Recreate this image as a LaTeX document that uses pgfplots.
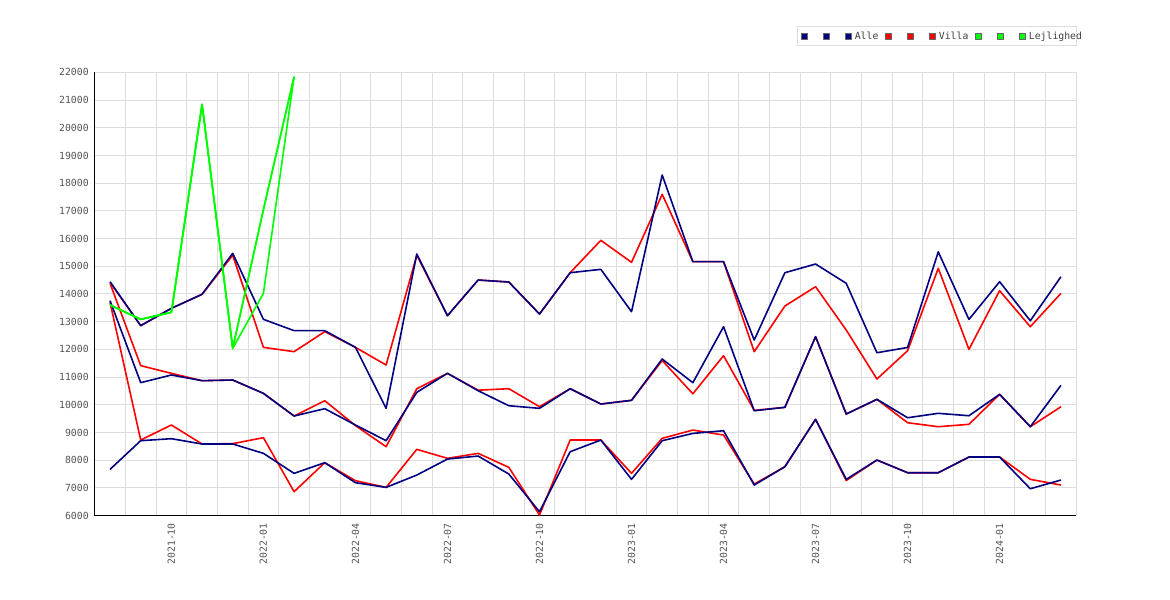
\documentclass[border=0pt]{standalone}
\usepackage{pgfplots}
\usepackage{pgfplotstable}
\pgfplotsset{compat=1.18}
\usepackage{fontspec}
\setmainfont{DejaVu Sans}
\newfontfamily\monof{DejaVu Sans Mono}
\definecolor{navyc}{HTML}{000080}
\definecolor{redc}{HTML}{FF0000}
\definecolor{greenc}{HTML}{00FF00}
\definecolor{gridc}{HTML}{DDDDDD}
\definecolor{labc}{HTML}{555555}

% Alle (AU, AM, AL) and Villa (VU, VM, VL), months 2021-08 .. 2024-03
\pgfplotstableread{
x  AU    AM    AL    VU    VM    VL
0  14445 13759 7672  14420 14385 13700
1  12857 10800 8707  12857 11414 8731
2  13483 11077 8779  13483 11137 9273
3  13988 10872 8587  13988 10872 8587
4  15468 10896 8587  15400 10896 8600
5  13086 10415 8250  12075 10415 8815
6  12677 9597  7528  11919 9597  6866
7  12677 9862  7913  12641 10150 7913
8  12075 9273  7191  12075 9250  7263
9  9874  8707  7022  11438 8490  7022
10 15443 10452 7467  15400 10582 8394
11 13217 11137 8044  13217 11137 8070
12 14504 10510 8153  14504 10530 8250
13 14432 9968  7503  14432 10582 7745
14 13277 9874  6143  13277 9934  6024
15 14768 10582 8309  14768 10582 8730
16 14890 10030 8730  15937 10030 8730
17 13361 10163 7312  15143 10163 7529
18 18294 11654 8706  17597 11600 8792
19 15166 10799 8970  15166 10400 9090
20 15166 12819 9066  15166 11773 8910
21 12339 9788  7106  11917 9800  7140
22 14768 9910  7767  13566 9910  7767
23 15082 12459 9477  14263 12459 9477
24 14385 9669  7312  12700 9669  7270
25 11881 10199 8009  10932 10199 8009
26 12070 9535  7551  11953 9355  7551
27 15520 9694  7551  14927 9211  7551
28 13083 9607  8117  12003 9297  8117
29 14443 10380 8117  14118 10380 8117
30 13035 9211  6973  12819 9211  7312
31 14623 10704 7287  14023 9932  7106
}\datatab

% Lejlighed, months 2021-08 .. 2022-02
\pgfplotstableread{
x  GA    GB    GC
0  13603 13603 13603
1  13086 13086 13086
2  13338 13338 13338
3  20845 20845 20845
4  12040 12040 12040
5  14024 17042 17042
6  21841 21841 21841
}\greentab

\newcommand{\emptyentry}{\makebox[4.3bp]{}}

\begin{document}
\begin{tikzpicture}
\path[use as bounding box] (0,0) rectangle (1170bp,600bp);
\begin{axis}[
  at={(94.7bp,84.3bp)}, anchor=south west,
  scale only axis, width=981.6bp, height=443.4bp,
  xmin=-0.5, xmax=31.5, ymin=6000, ymax=22000,
  axis x line*=bottom, axis y line*=left,
  axis line style={black, line width=1.2bp, -},
  xtick={2,5,...,29},
  xticklabels={2021-10,2022-01,2022-04,2022-07,2022-10,2023-01,2023-04,2023-07,2023-10,2024-01},
  minor xtick={-0.5,0.5,...,31.5},
  ytick={6000,7000,...,22000},
  scaled y ticks=false,
  xmajorgrids=false, xminorgrids=true, ymajorgrids=true,
  grid style={gridc, line width=1bp},
  minor grid style={gridc, line width=1bp},
  major tick length=0pt, minor tick length=0pt,
  /pgf/number format/assume math mode=true,
  /pgf/number format/set thousands separator={},
  yticklabel style={font=\monof\fontsize{9.8bp}{11bp}\selectfont, text=labc, xshift=-2.5bp},
  xticklabel style={font=\monof\fontsize{9.8bp}{11bp}\selectfont, text=labc, rotate=90, anchor=east, xshift=-4bp},
  legend columns=9,
  legend style={at={(0.7158,1.1044)}, anchor=north west,
    draw=gridc, line width=1bp, fill=white,
    inner xsep=3.5bp, inner ysep=5bp,
    font=\monof\fontsize{9.8bp}{11bp}\selectfont, text=black!75,
    nodes={inner sep=0pt},
    /tikz/every odd column/.append style={column sep=3.5bp},
    /tikz/every even column/.append style={column sep=7bp}},
  every axis plot/.append style={line width=1.6bp, line join=round},
]
\addlegendimage{legend image code/.code={\draw[draw=black!60,fill=navyc,line width=0.8bp] (0bp,-3bp) rectangle (6bp,3bp);}}
\addlegendentry{\emptyentry}
\addlegendimage{legend image code/.code={\draw[draw=black!60,fill=navyc,line width=0.8bp] (0bp,-3bp) rectangle (6bp,3bp);}}
\addlegendentry{\emptyentry}
\addlegendimage{legend image code/.code={\draw[draw=black!60,fill=navyc,line width=0.8bp] (0bp,-3bp) rectangle (6bp,3bp);}}
\addlegendentry{Alle}
\addlegendimage{legend image code/.code={\draw[draw=black!60,fill=redc,line width=0.8bp] (0bp,-3bp) rectangle (6bp,3bp);}}
\addlegendentry{\emptyentry}
\addlegendimage{legend image code/.code={\draw[draw=black!60,fill=redc,line width=0.8bp] (0bp,-3bp) rectangle (6bp,3bp);}}
\addlegendentry{\emptyentry}
\addlegendimage{legend image code/.code={\draw[draw=black!60,fill=redc,line width=0.8bp] (0bp,-3bp) rectangle (6bp,3bp);}}
\addlegendentry{Villa}
\addlegendimage{legend image code/.code={\draw[draw=black!60,fill=greenc,line width=0.8bp] (0bp,-3bp) rectangle (6bp,3bp);}}
\addlegendentry{\emptyentry}
\addlegendimage{legend image code/.code={\draw[draw=black!60,fill=greenc,line width=0.8bp] (0bp,-3bp) rectangle (6bp,3bp);}}
\addlegendentry{\emptyentry}
\addlegendimage{legend image code/.code={\draw[draw=black!60,fill=greenc,line width=0.8bp] (0bp,-3bp) rectangle (6bp,3bp);}}
\addlegendentry{\makebox[44bp][l]{Lejlighed}}

% Villa (drawn first, below Alle)
\addplot[redc, forget plot] table[x=x, y=VU] {\datatab};
\addplot[redc, forget plot] table[x=x, y=VM] {\datatab};
\addplot[redc, forget plot] table[x=x, y=VL] {\datatab};
% Alle
\addplot[navyc, forget plot] table[x=x, y=AU] {\datatab};
\addplot[navyc, forget plot] table[x=x, y=AM] {\datatab};
\addplot[navyc, forget plot] table[x=x, y=AL] {\datatab};
% Lejlighed
\addplot[greenc, forget plot] table[x=x, y=GA] {\greentab};
\addplot[greenc, forget plot] table[x=x, y=GB] {\greentab};
\addplot[greenc, forget plot] table[x=x, y=GC] {\greentab};
\end{axis}
\end{tikzpicture}
\end{document}
